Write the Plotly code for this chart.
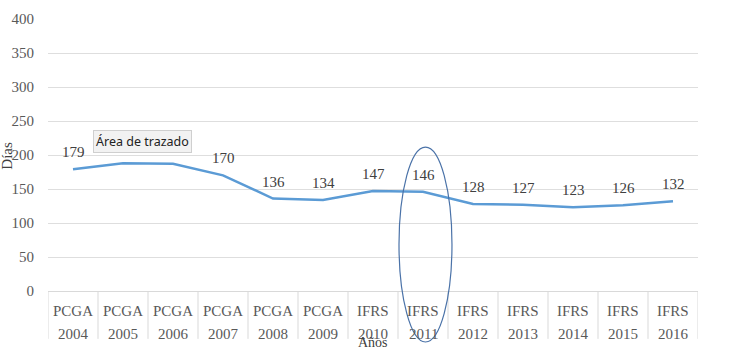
import plotly.graph_objects as go

normas = ["PCGA"] * 6 + ["IFRS"] * 7
anios = ["2004", "2005", "2006", "2007", "2008", "2009", "2010",
         "2011", "2012", "2013", "2014", "2015", "2016"]
dias = [179, 188, 187, 170, 136, 134, 147, 146, 128, 127, 123, 126, 132]
y_ticks = [0, 50, 100, 150, 200, 250, 300, 350, 400]

SERIF = "Liberation Serif, Times New Roman, serif"
idx = list(range(len(anios)))

fig = go.Figure()
fig.add_trace(go.Scatter(
    x=idx, y=dias, mode="lines",
    line=dict(color="#5b9bd5", width=2.5),
    hoverinfo="skip", showlegend=False,
))

# data labels
for i, v in zip(idx, dias):
    fig.add_annotation(x=i, y=v, xref="x", yref="y", text=str(v), showarrow=False,
                       xanchor="center", yanchor="middle", yshift=17,
                       font=dict(family=SERIF, size=15, color="#404040"))

# category table: two-line labels and separators
for i in idx:
    fig.add_annotation(x=i, y=-0.072, xref="x", yref="paper", text=normas[i],
                       showarrow=False, xanchor="center", yanchor="middle",
                       font=dict(family=SERIF, size=15, color="#595959"))
    fig.add_annotation(x=i, y=-0.157, xref="x", yref="paper", text=anios[i],
                       showarrow=False, xanchor="center", yanchor="middle",
                       font=dict(family=SERIF, size=15, color="#595959"))
for i in range(len(anios) + 1):
    fig.add_shape(type="line", xref="x", yref="paper", x0=i - 0.5, x1=i - 0.5,
                  y0=0, y1=-0.176, line=dict(color="#d9d9d9", width=1))

# ellipse highlight
fig.add_shape(type="circle", xref="paper", yref="paper",
              x0=0.540, x1=0.6215, y0=-0.1875, y1=0.529,
              line=dict(color="#4a72a8", width=1.2))

# tooltip box
fig.add_annotation(x=0.145, y=0.550, xref="paper", yref="paper",
                   text="Área de trazado", showarrow=False,
                   xanchor="center", yanchor="middle",
                   font=dict(family="Noto Sans, DejaVu Sans, sans-serif", size=12.5, color="#222222"),
                   bgcolor="#f2f2f2", bordercolor="#cfcfcf", borderwidth=1, borderpad=2)

# axis titles
fig.add_annotation(x=(7 - 48) / 650, y=199, xref="paper", yref="y", text="Días",
                   textangle=-90, showarrow=False, xanchor="center", yanchor="middle",
                   font=dict(family=SERIF, size=15, color="#404040"))
fig.add_annotation(x=0.5, y=-0.19, xref="paper", yref="paper", text="Años",
                   showarrow=False, xanchor="center", yanchor="middle",
                   font=dict(family=SERIF, size=14, color="#404040"))

fig.update_layout(
    width=744, height=357,
    margin=dict(l=48, r=46, t=19, b=66),
    paper_bgcolor="white", plot_bgcolor="white",
    xaxis=dict(range=[-0.5, len(anios) - 0.5], showticklabels=False, showgrid=False,
               zeroline=False, showline=False, ticks=""),
    yaxis=dict(range=[0, 400], tickvals=y_ticks, showgrid=True, gridcolor="#dedede",
               gridwidth=1, zeroline=True, zerolinecolor="#d9d9d9", zerolinewidth=1,
               tickfont=dict(family=SERIF, size=15, color="#595959"),
               ticks="", ticklabelstandoff=13, showline=False),
)

# remove the default page margin so the figure fills the 744x357 window
fig.write_html("out.html", config={"displayModeBar": False},
               post_script="document.body.style.margin='0';")
